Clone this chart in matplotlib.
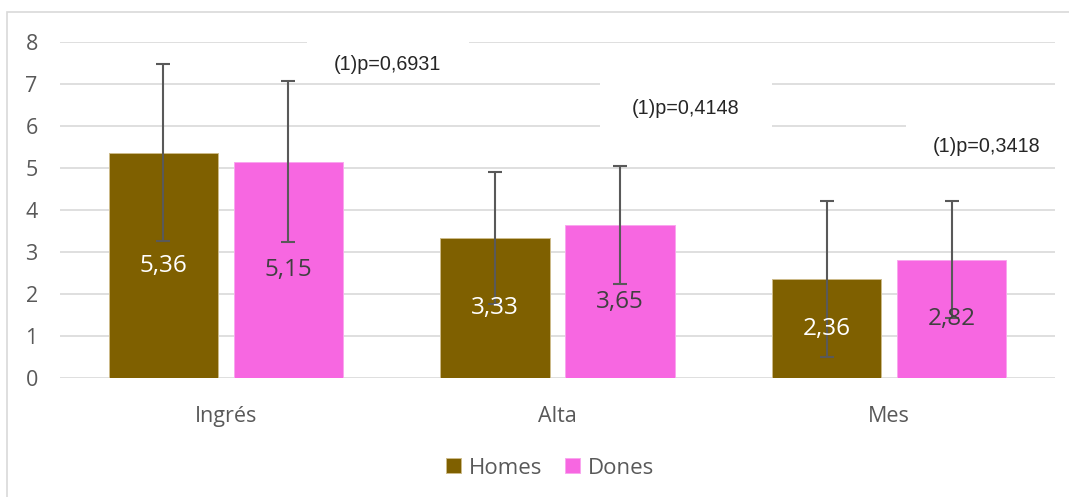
import matplotlib
matplotlib.use("Agg")
import matplotlib.pyplot as plt
import numpy as np
from matplotlib.patches import Rectangle
from matplotlib import font_manager

categories = ["Ingrés", "Alta", "Mes"]
homes = [5.36, 3.33, 2.36]
dones = [5.15, 3.65, 2.82]
homes_err = [2.10, 1.57, 1.85]
dones_err = [1.91, 1.40, 1.39]
pvalues = ["(1)p=0,6931", "(1)p=0,4148", "(1)p=0,3418"]
yticks = [0, 1, 2, 3, 4, 5, 6, 7, 8]

c_homes = "#7F6000"
c_dones = "#F767E1"
txt = "#595959"

names = {f.name for f in font_manager.fontManager.ttflist}
pfont = "Liberation Sans Narrow" if "Liberation Sans Narrow" in names else "Liberation Sans"
psize = 16.5 if pfont == "Liberation Sans Narrow" else 14.2

fig = plt.figure(figsize=(10.69, 4.97), dpi=100)
W, H = 1069, 497
ax = fig.add_axes([60 / W, 1 - 378.3 / H, (1055 - 60) / W, (378.3 - 41.7) / H])

x = np.arange(len(categories))
bw = 0.329
off = 0.1885
ax.bar(x - off, homes, bw, color=c_homes, edgecolor="#CDBB8A", lw=0.7, zorder=2, label="Homes")
ax.bar(x + off, dones, bw, color=c_dones, edgecolor="#F9A6EE", lw=0.7, zorder=2, label="Dones")
ax.errorbar(x - off, homes, yerr=homes_err, fmt="none", ecolor="#595959",
            elinewidth=1.5, capsize=5, capthick=1.5, zorder=4)
ax.errorbar(x + off, dones, yerr=dones_err, fmt="none", ecolor="#595959",
            elinewidth=1.5, capsize=5, capthick=1.5, zorder=4)

for xi, v in zip(x - off, homes):
    ax.text(xi, v / 2, f"{v:.2f}".replace(".", ","), ha="center", va="center",
            color="white", fontsize=17.5, family="Open Sans", zorder=5)
for xi, v in zip(x + off, dones):
    ax.text(xi, v / 2, f"{v:.2f}".replace(".", ","), ha="center", va="center",
            color="#404040", fontsize=17.5, family="Open Sans", zorder=5)

ax.set_xlim(-0.5, 2.5)
ax.set_ylim(0, 8)
ax.set_yticks(yticks)
ax.set_xticks(x)
ax.set_xticklabels(categories)
ax.yaxis.grid(True, color="#D9D9D9", lw=1.2, zorder=0)
ax.set_axisbelow(True)
for s in ax.spines.values():
    s.set_visible(False)
ax.tick_params(length=0, labelsize=15.5, labelcolor=txt)
for lab in ax.get_xticklabels() + ax.get_yticklabels():
    lab.set_family("Open Sans")
ax.tick_params(axis="x", pad=20)
ax.tick_params(axis="y", pad=16)

boxes = [(307, 38, 469, 82, 387, 65), (600, 82, 772, 128, 686, 108), (906, 124, 1062, 166, 987, 147)]
for (x0, y0, x1, y1, tx, ty), ptxt in zip(boxes, pvalues):
    fig.patches.append(Rectangle((x0 / W, 1 - y1 / H), (x1 - x0) / W, (y1 - y0) / H,
                                 transform=fig.transFigure, facecolor="white",
                                 edgecolor="none", zorder=1))
    fig.text(tx / W, 1 - ty / H, ptxt, ha="center", va="center", fontsize=psize,
             family=pfont, color="#262626", zorder=3)
ax.set_zorder(0)
ax.patch.set_alpha(0)

fig.patches.append(Rectangle((7.3 / W, -0.1), 1.2, 1 - 12 / H + 0.1, transform=fig.transFigure,
                             facecolor="none", edgecolor="#D9D9D9", lw=1.2, zorder=0))

leg = fig.legend(loc="center", bbox_to_anchor=(550 / W, 1 - 468 / H), ncol=2,
                 frameon=False, handlelength=0.68, handleheight=0.68, handletextpad=0.35,
                 columnspacing=1.0, prop={"family": "Open Sans", "size": 16})
for t in leg.get_texts():
    t.set_color(txt)

fig.savefig("out.png", dpi=100)
